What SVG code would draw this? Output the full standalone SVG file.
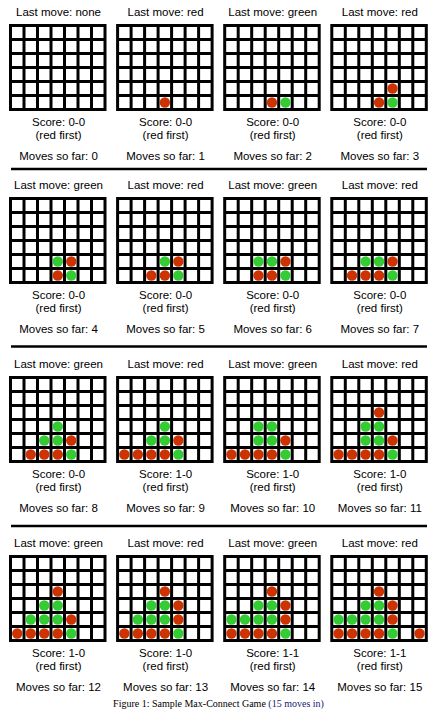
<svg xmlns="http://www.w3.org/2000/svg" xmlns:xlink="http://www.w3.org/1999/xlink" width="443" height="722" viewBox="0 0 443 722">
<style>
.lbl{font-family:"Liberation Sans",Arial,sans-serif;font-size:11.5px;text-anchor:middle;fill:#000}
.cap{font-family:"Liberation Serif","Times New Roman",serif;font-size:10px;text-anchor:middle;fill:#000}
.r{fill:#cc3300}
.g{fill:#33cc33}
.sep{stroke:#000;stroke-width:2.5}
.gl{stroke:#000;stroke-width:3;fill:none}
</style>
<defs>
<g id="grid">
<rect x="0" y="0" width="97.5" height="87" fill="#fff"/>
<path class="gl" d="M1.5 0V87M15 0V87M28.5 0V87M42 0V87M55.5 0V87M69 0V87M82.5 0V87M96 0V87M0 1.5H97.5M0 15.5H97.5M0 29.5H97.5M0 43.5H97.5M0 57.5H97.5M0 71.5H97.5M0 85.5H97.5"/>
</g>
</defs>
<rect width="443" height="722" fill="#fff"/>
<g id="connectors">
<line class="sep" x1="11" y1="169" x2="427" y2="169"/>
<line class="sep" x1="11" y1="346.5" x2="427" y2="346.5"/>
<line class="sep" x1="11" y1="526" x2="427" y2="526"/>
</g>
<g id="board-0" transform="translate(9,24)">
<text class="lbl" x="49.5" y="-8">Last move: none</text>
<use xlink:href="#grid"/>
<text class="lbl" x="49.5" y="101.5">Score: 0-0</text>
<text class="lbl" x="49.5" y="114.5">(red first)</text>
<text class="lbl" x="49.5" y="136">Moves so far: 0</text>
</g>
<g id="board-1" transform="translate(116.1,24)">
<text class="lbl" x="49.5" y="-8">Last move: red</text>
<use xlink:href="#grid"/>
<circle class="r" cx="48.75" cy="78.5" r="5.2"/>
<text class="lbl" x="49.5" y="101.5">Score: 0-0</text>
<text class="lbl" x="49.5" y="114.5">(red first)</text>
<text class="lbl" x="49.5" y="136">Moves so far: 1</text>
</g>
<g id="board-2" transform="translate(223.2,24)">
<text class="lbl" x="49.5" y="-8">Last move: green</text>
<use xlink:href="#grid"/>
<circle class="r" cx="48.75" cy="78.5" r="5.2"/>
<circle class="g" cx="62.25" cy="78.5" r="5.2"/>
<text class="lbl" x="49.5" y="101.5">Score: 0-0</text>
<text class="lbl" x="49.5" y="114.5">(red first)</text>
<text class="lbl" x="49.5" y="136">Moves so far: 2</text>
</g>
<g id="board-3" transform="translate(330.3,24)">
<text class="lbl" x="49.5" y="-8">Last move: red</text>
<use xlink:href="#grid"/>
<circle class="r" cx="48.75" cy="78.5" r="5.2"/>
<circle class="g" cx="62.25" cy="78.5" r="5.2"/>
<circle class="r" cx="62.25" cy="64.5" r="5.2"/>
<text class="lbl" x="49.5" y="101.5">Score: 0-0</text>
<text class="lbl" x="49.5" y="114.5">(red first)</text>
<text class="lbl" x="49.5" y="136">Moves so far: 3</text>
</g>
<g id="board-4" transform="translate(9,197)">
<text class="lbl" x="49.5" y="-8">Last move: green</text>
<use xlink:href="#grid"/>
<circle class="r" cx="48.75" cy="78.5" r="5.2"/>
<circle class="g" cx="62.25" cy="78.5" r="5.2"/>
<circle class="r" cx="62.25" cy="64.5" r="5.2"/>
<circle class="g" cx="48.75" cy="64.5" r="5.2"/>
<text class="lbl" x="49.5" y="101.5">Score: 0-0</text>
<text class="lbl" x="49.5" y="114.5">(red first)</text>
<text class="lbl" x="49.5" y="136">Moves so far: 4</text>
</g>
<g id="board-5" transform="translate(116.1,197)">
<text class="lbl" x="49.5" y="-8">Last move: red</text>
<use xlink:href="#grid"/>
<circle class="r" cx="35.25" cy="78.5" r="5.2"/>
<circle class="r" cx="48.75" cy="78.5" r="5.2"/>
<circle class="g" cx="62.25" cy="78.5" r="5.2"/>
<circle class="r" cx="62.25" cy="64.5" r="5.2"/>
<circle class="g" cx="48.75" cy="64.5" r="5.2"/>
<text class="lbl" x="49.5" y="101.5">Score: 0-0</text>
<text class="lbl" x="49.5" y="114.5">(red first)</text>
<text class="lbl" x="49.5" y="136">Moves so far: 5</text>
</g>
<g id="board-6" transform="translate(223.2,197)">
<text class="lbl" x="49.5" y="-8">Last move: green</text>
<use xlink:href="#grid"/>
<circle class="r" cx="35.25" cy="78.5" r="5.2"/>
<circle class="r" cx="48.75" cy="78.5" r="5.2"/>
<circle class="g" cx="62.25" cy="78.5" r="5.2"/>
<circle class="g" cx="35.25" cy="64.5" r="5.2"/>
<circle class="g" cx="48.75" cy="64.5" r="5.2"/>
<circle class="r" cx="62.25" cy="64.5" r="5.2"/>
<text class="lbl" x="49.5" y="101.5">Score: 0-0</text>
<text class="lbl" x="49.5" y="114.5">(red first)</text>
<text class="lbl" x="49.5" y="136">Moves so far: 6</text>
</g>
<g id="board-7" transform="translate(330.3,197)">
<text class="lbl" x="49.5" y="-8">Last move: red</text>
<use xlink:href="#grid"/>
<circle class="r" cx="21.75" cy="78.5" r="5.2"/>
<circle class="r" cx="35.25" cy="78.5" r="5.2"/>
<circle class="r" cx="48.75" cy="78.5" r="5.2"/>
<circle class="g" cx="62.25" cy="78.5" r="5.2"/>
<circle class="g" cx="35.25" cy="64.5" r="5.2"/>
<circle class="g" cx="48.75" cy="64.5" r="5.2"/>
<circle class="r" cx="62.25" cy="64.5" r="5.2"/>
<text class="lbl" x="49.5" y="101.5">Score: 0-0</text>
<text class="lbl" x="49.5" y="114.5">(red first)</text>
<text class="lbl" x="49.5" y="136">Moves so far: 7</text>
</g>
<g id="board-8" transform="translate(9,376)">
<text class="lbl" x="49.5" y="-8">Last move: green</text>
<use xlink:href="#grid"/>
<circle class="r" cx="21.75" cy="78.5" r="5.2"/>
<circle class="r" cx="35.25" cy="78.5" r="5.2"/>
<circle class="r" cx="48.75" cy="78.5" r="5.2"/>
<circle class="g" cx="62.25" cy="78.5" r="5.2"/>
<circle class="g" cx="35.25" cy="64.5" r="5.2"/>
<circle class="g" cx="48.75" cy="64.5" r="5.2"/>
<circle class="r" cx="62.25" cy="64.5" r="5.2"/>
<circle class="g" cx="48.75" cy="50.5" r="5.2"/>
<text class="lbl" x="49.5" y="101.5">Score: 0-0</text>
<text class="lbl" x="49.5" y="114.5">(red first)</text>
<text class="lbl" x="49.5" y="136">Moves so far: 8</text>
</g>
<g id="board-9" transform="translate(116.1,376)">
<text class="lbl" x="49.5" y="-8">Last move: red</text>
<use xlink:href="#grid"/>
<circle class="r" cx="8.25" cy="78.5" r="5.2"/>
<circle class="r" cx="21.75" cy="78.5" r="5.2"/>
<circle class="r" cx="35.25" cy="78.5" r="5.2"/>
<circle class="r" cx="48.75" cy="78.5" r="5.2"/>
<circle class="g" cx="62.25" cy="78.5" r="5.2"/>
<circle class="g" cx="35.25" cy="64.5" r="5.2"/>
<circle class="g" cx="48.75" cy="64.5" r="5.2"/>
<circle class="r" cx="62.25" cy="64.5" r="5.2"/>
<circle class="g" cx="48.75" cy="50.5" r="5.2"/>
<text class="lbl" x="49.5" y="101.5">Score: 1-0</text>
<text class="lbl" x="49.5" y="114.5">(red first)</text>
<text class="lbl" x="49.5" y="136">Moves so far: 9</text>
</g>
<g id="board-10" transform="translate(223.2,376)">
<text class="lbl" x="49.5" y="-8">Last move: green</text>
<use xlink:href="#grid"/>
<circle class="r" cx="8.25" cy="78.5" r="5.2"/>
<circle class="r" cx="21.75" cy="78.5" r="5.2"/>
<circle class="r" cx="35.25" cy="78.5" r="5.2"/>
<circle class="r" cx="48.75" cy="78.5" r="5.2"/>
<circle class="g" cx="62.25" cy="78.5" r="5.2"/>
<circle class="g" cx="35.25" cy="64.5" r="5.2"/>
<circle class="g" cx="48.75" cy="64.5" r="5.2"/>
<circle class="r" cx="62.25" cy="64.5" r="5.2"/>
<circle class="g" cx="35.25" cy="50.5" r="5.2"/>
<circle class="g" cx="48.75" cy="50.5" r="5.2"/>
<text class="lbl" x="49.5" y="101.5">Score: 1-0</text>
<text class="lbl" x="49.5" y="114.5">(red first)</text>
<text class="lbl" x="49.5" y="136">Moves so far: 10</text>
</g>
<g id="board-11" transform="translate(330.3,376)">
<text class="lbl" x="49.5" y="-8">Last move: red</text>
<use xlink:href="#grid"/>
<circle class="r" cx="8.25" cy="78.5" r="5.2"/>
<circle class="r" cx="21.75" cy="78.5" r="5.2"/>
<circle class="r" cx="35.25" cy="78.5" r="5.2"/>
<circle class="r" cx="48.75" cy="78.5" r="5.2"/>
<circle class="g" cx="62.25" cy="78.5" r="5.2"/>
<circle class="g" cx="35.25" cy="64.5" r="5.2"/>
<circle class="g" cx="48.75" cy="64.5" r="5.2"/>
<circle class="r" cx="62.25" cy="64.5" r="5.2"/>
<circle class="g" cx="35.25" cy="50.5" r="5.2"/>
<circle class="g" cx="48.75" cy="50.5" r="5.2"/>
<circle class="r" cx="48.75" cy="36.5" r="5.2"/>
<text class="lbl" x="49.5" y="101.5">Score: 1-0</text>
<text class="lbl" x="49.5" y="114.5">(red first)</text>
<text class="lbl" x="49.5" y="136">Moves so far: 11</text>
</g>
<g id="board-12" transform="translate(9,555)">
<text class="lbl" x="49.5" y="-8">Last move: green</text>
<use xlink:href="#grid"/>
<circle class="r" cx="8.25" cy="78.5" r="5.2"/>
<circle class="r" cx="21.75" cy="78.5" r="5.2"/>
<circle class="r" cx="35.25" cy="78.5" r="5.2"/>
<circle class="r" cx="48.75" cy="78.5" r="5.2"/>
<circle class="g" cx="62.25" cy="78.5" r="5.2"/>
<circle class="g" cx="21.75" cy="64.5" r="5.2"/>
<circle class="g" cx="35.25" cy="64.5" r="5.2"/>
<circle class="g" cx="48.75" cy="64.5" r="5.2"/>
<circle class="r" cx="62.25" cy="64.5" r="5.2"/>
<circle class="g" cx="35.25" cy="50.5" r="5.2"/>
<circle class="g" cx="48.75" cy="50.5" r="5.2"/>
<circle class="r" cx="48.75" cy="36.5" r="5.2"/>
<text class="lbl" x="49.5" y="101.5">Score: 1-0</text>
<text class="lbl" x="49.5" y="114.5">(red first)</text>
<text class="lbl" x="49.5" y="136">Moves so far: 12</text>
</g>
<g id="board-13" transform="translate(116.1,555)">
<text class="lbl" x="49.5" y="-8">Last move: red</text>
<use xlink:href="#grid"/>
<circle class="r" cx="8.25" cy="78.5" r="5.2"/>
<circle class="r" cx="21.75" cy="78.5" r="5.2"/>
<circle class="r" cx="35.25" cy="78.5" r="5.2"/>
<circle class="r" cx="48.75" cy="78.5" r="5.2"/>
<circle class="g" cx="62.25" cy="78.5" r="5.2"/>
<circle class="g" cx="21.75" cy="64.5" r="5.2"/>
<circle class="g" cx="35.25" cy="64.5" r="5.2"/>
<circle class="g" cx="48.75" cy="64.5" r="5.2"/>
<circle class="r" cx="62.25" cy="64.5" r="5.2"/>
<circle class="g" cx="35.25" cy="50.5" r="5.2"/>
<circle class="g" cx="48.75" cy="50.5" r="5.2"/>
<circle class="r" cx="62.25" cy="50.5" r="5.2"/>
<circle class="r" cx="48.75" cy="36.5" r="5.2"/>
<text class="lbl" x="49.5" y="101.5">Score: 1-0</text>
<text class="lbl" x="49.5" y="114.5">(red first)</text>
<text class="lbl" x="49.5" y="136">Moves so far: 13</text>
</g>
<g id="board-14" transform="translate(223.2,555)">
<text class="lbl" x="49.5" y="-8">Last move: green</text>
<use xlink:href="#grid"/>
<circle class="r" cx="8.25" cy="78.5" r="5.2"/>
<circle class="r" cx="21.75" cy="78.5" r="5.2"/>
<circle class="r" cx="35.25" cy="78.5" r="5.2"/>
<circle class="r" cx="48.75" cy="78.5" r="5.2"/>
<circle class="g" cx="62.25" cy="78.5" r="5.2"/>
<circle class="g" cx="8.25" cy="64.5" r="5.2"/>
<circle class="g" cx="21.75" cy="64.5" r="5.2"/>
<circle class="g" cx="35.25" cy="64.5" r="5.2"/>
<circle class="g" cx="48.75" cy="64.5" r="5.2"/>
<circle class="r" cx="62.25" cy="64.5" r="5.2"/>
<circle class="g" cx="35.25" cy="50.5" r="5.2"/>
<circle class="g" cx="48.75" cy="50.5" r="5.2"/>
<circle class="r" cx="62.25" cy="50.5" r="5.2"/>
<circle class="r" cx="48.75" cy="36.5" r="5.2"/>
<text class="lbl" x="49.5" y="101.5">Score: 1-1</text>
<text class="lbl" x="49.5" y="114.5">(red first)</text>
<text class="lbl" x="49.5" y="136">Moves so far: 14</text>
</g>
<g id="board-15" transform="translate(330.3,555)">
<text class="lbl" x="49.5" y="-8">Last move: red</text>
<use xlink:href="#grid"/>
<circle class="r" cx="8.25" cy="78.5" r="5.2"/>
<circle class="r" cx="21.75" cy="78.5" r="5.2"/>
<circle class="r" cx="35.25" cy="78.5" r="5.2"/>
<circle class="r" cx="48.75" cy="78.5" r="5.2"/>
<circle class="g" cx="62.25" cy="78.5" r="5.2"/>
<circle class="r" cx="89.25" cy="78.5" r="5.2"/>
<circle class="g" cx="8.25" cy="64.5" r="5.2"/>
<circle class="g" cx="21.75" cy="64.5" r="5.2"/>
<circle class="g" cx="35.25" cy="64.5" r="5.2"/>
<circle class="g" cx="48.75" cy="64.5" r="5.2"/>
<circle class="r" cx="62.25" cy="64.5" r="5.2"/>
<circle class="g" cx="35.25" cy="50.5" r="5.2"/>
<circle class="g" cx="48.75" cy="50.5" r="5.2"/>
<circle class="r" cx="62.25" cy="50.5" r="5.2"/>
<circle class="r" cx="48.75" cy="36.5" r="5.2"/>
<text class="lbl" x="49.5" y="101.5">Score: 1-1</text>
<text class="lbl" x="49.5" y="114.5">(red first)</text>
<text class="lbl" x="49.5" y="136">Moves so far: 15</text>
</g>
<g id="caption">
<text class="cap" x="218.5" y="707">Figure 1: Sample Max-Connect Game <tspan fill="#1a1a70">(15 moves in)</tspan></text>
</g>
</svg>
